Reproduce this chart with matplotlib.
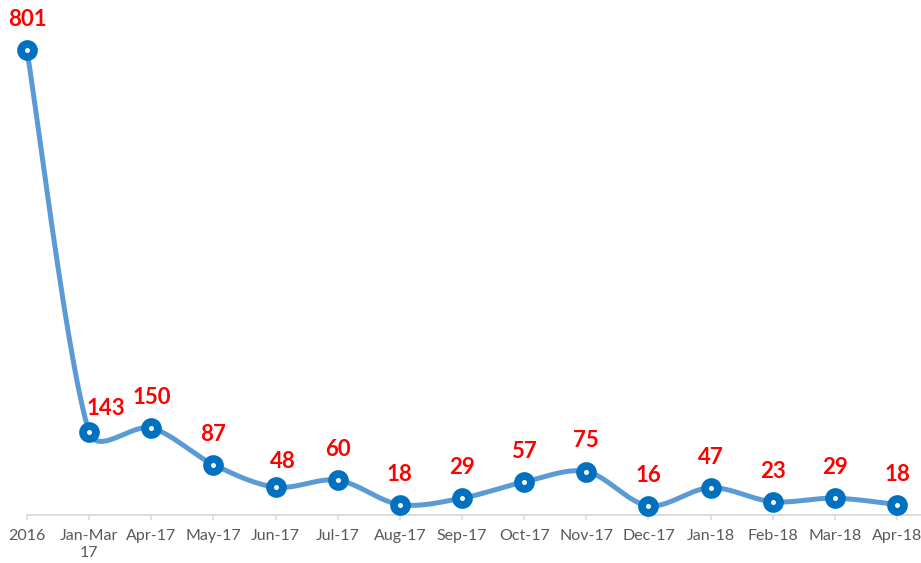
import numpy as np
import matplotlib
matplotlib.use("Agg")
import matplotlib.pyplot as plt

# chart data
periods = ["2016", "Jan-Mar\n17", "Apr-17", "May-17", "Jun-17", "Jul-17", "Aug-17",
           "Sep-17", "Oct-17", "Nov-17", "Dec-17", "Jan-18", "Feb-18", "Mar-18", "Apr-18"]
counts = [801, 143, 150, 87, 48, 60, 18, 29, 57, 75, 16, 47, 23, 29, 18]

# label nudges (points) where the original labels were moved by hand
label_dx = {1: 12, 4: 5}
label_dy = {1: 12, 4: 14}

# pixel size of one unit on each axis (used only to weight the smoothing)
unit_x = 870 / 14
unit_y = 0.58


def smooth_line(xs, ys, steps=40):
    '''Bezier through the points; tangents shortened next to a much longer segment.'''
    pts = np.column_stack([np.asarray(xs, float), np.asarray(ys, float)])
    scale = np.array([unit_x, unit_y])
    n = len(pts)
    tangents = np.array([pts[min(i + 1, n - 1)] - pts[max(i - 1, 0)] for i in range(n)])
    seg = [np.hypot(*((pts[i + 1] - pts[i]) * scale)) for i in range(n - 1)]
    t = np.linspace(0, 1, steps)
    out = []
    for i in range(n - 1):
        p0, p3 = pts[i], pts[i + 1]
        w0 = 1.0 if i == 0 else min(1.0, np.sqrt(seg[i] / seg[i - 1]))
        w1 = 1.0 if i + 1 == n - 1 else min(1.0, np.sqrt(seg[i] / seg[i + 1]))
        c1 = p0 + tangents[i] * w0 / 6
        c2 = p3 - tangents[i + 1] * w1 / 6
        b = ((1 - t) ** 3)[:, None] * p0 + (3 * (1 - t) ** 2 * t)[:, None] * c1 \
            + (3 * (1 - t) * t ** 2)[:, None] * c2 + (t ** 3)[:, None] * p3
        out.append(b)
    out = np.vstack(out)
    return out[:, 0], out[:, 1]


plt.rcParams['font.family'] = ['Lato', 'DejaVu Sans']

fig = plt.figure(figsize=(9.21, 5.63), dpi=100)
ax = fig.add_axes([0, 48 / 563, 1, 515 / 563])

x = np.arange(len(periods))
sx, sy = smooth_line(x, counts)
ax.plot(sx, sy, color="#5B9BD5", lw=3.6, solid_capstyle="round", zorder=2)
ax.plot(x, counts, ls="none", marker="o", ms=9.3, mfc="white", mec="#0070C0",
        mew=5.6, zorder=3, clip_on=False)

for i, v in enumerate(counts):
    ax.annotate(str(v), (i, v), xytext=(label_dx.get(i, 0), label_dy.get(i, 17.3)),
                textcoords="offset points", ha="center", va="baseline",
                color="#FF0000", fontsize=16, fontweight="bold")

ax.set_xlim(-27 / unit_x, 14 + 24 / unit_x)
ax.set_ylim(0, 515 / unit_y)
ax.set_xticks(x)
ax.set_xticklabels(periods, color="#595959", fontsize=11.5, linespacing=1.25)
ax.tick_params(axis="x", length=3.8, width=1.1, color="#D9D9D9", pad=6.5)
ax.set_yticks([])
for side in ["left", "right", "top"]:
    ax.spines[side].set_visible(False)
ax.spines["bottom"].set_color("#D9D9D9")
ax.spines["bottom"].set_linewidth(1.3)
ax.spines["bottom"].set_bounds(0, 14 + 24 / unit_x)

fig.savefig("out.png", dpi=100)
